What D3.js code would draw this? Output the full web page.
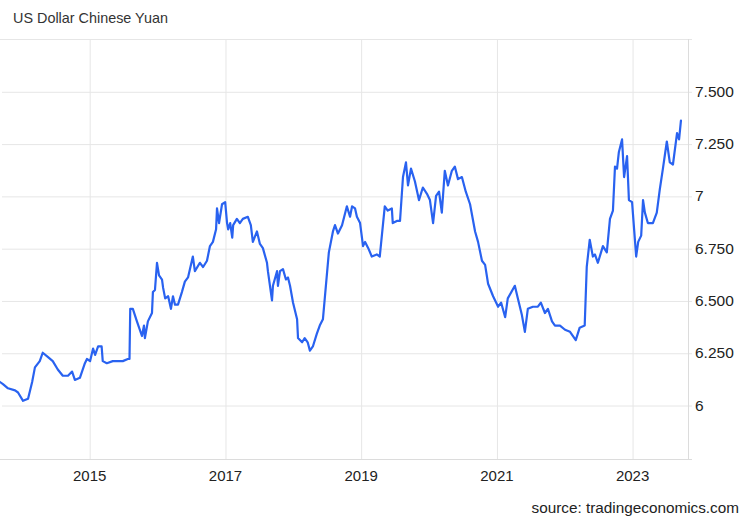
<!DOCTYPE html>
<html>
<head>
<meta charset="utf-8">
<script src="https://cdn.jsdelivr.net/npm/d3@7"></script>
<style>
  html, body { margin: 0; padding: 0; background: #fff; }
  svg { display: block; font-family: "Liberation Sans", Arial, sans-serif; }
</style>
</head>
<body>
<svg id="chart" width="750" height="520"></svg>
<script>
// ---- data ----
const title = "US Dollar Chinese Yuan";
const source = "source: tradingeconomics.com";
const dates = [
"2013-09-08","2013-09-24","2013-10-21","2013-11-28","2013-12-14","2014-01-10","2014-02-06","2014-02-28","2014-03-15","2014-04-10",
"2014-04-26","2014-05-23","2014-06-19","2014-07-16","2014-08-12","2014-09-09","2014-10-01","2014-10-16","2014-11-12","2014-12-09",
"2014-12-20","2015-01-06","2015-01-22","2015-02-02","2015-02-18","2015-03-09","2015-03-15","2015-04-06","2015-05-08","2015-06-04",
"2015-07-01","2015-07-28","2015-08-06","2015-08-10","2015-08-24","2015-09-15","2015-10-12","2015-10-23","2015-10-28","2015-11-13",
"2015-12-05","2015-12-10","2015-12-21","2016-01-01","2016-01-12","2016-01-28","2016-02-03","2016-02-14","2016-03-01","2016-03-16",
"2016-03-27","2016-04-07","2016-04-23","2016-05-14","2016-05-30","2016-06-16","2016-07-12","2016-07-23","2016-08-19","2016-09-05",
"2016-09-26","2016-10-12","2016-10-28","2016-11-14","2016-11-19","2016-11-30","2016-12-16","2017-01-02","2017-01-12","2017-01-18",
"2017-01-29","2017-02-09","2017-02-14","2017-03-06","2017-03-22","2017-04-07","2017-05-04","2017-05-20","2017-05-31","2017-06-22",
"2017-07-08","2017-07-24","2017-08-15","2017-08-20","2017-09-11","2017-09-16","2017-10-08","2017-10-13","2017-10-24","2017-11-09",
"2017-11-25","2017-12-06","2017-12-17","2018-01-02","2018-01-24","2018-01-29","2018-02-20","2018-03-06","2018-03-22","2018-04-03",
"2018-04-19","2018-05-10","2018-05-26","2018-06-12","2018-07-03","2018-07-14","2018-08-05","2018-08-16","2018-09-01","2018-09-23",
"2018-10-19","2018-11-05","2018-11-16","2018-12-02","2018-12-12","2018-12-29","2019-01-14","2019-01-25","2019-02-11","2019-03-02",
"2019-03-29","2019-04-14","2019-05-11","2019-05-27","2019-06-18","2019-06-23","2019-07-15","2019-08-01","2019-08-17","2019-09-02",
"2019-09-13","2019-09-29","2019-10-20","2019-11-11","2019-12-02","2019-12-24","2020-01-09","2020-01-26","2020-02-11","2020-02-27",
"2020-03-13","2020-03-29","2020-04-15","2020-05-06","2020-05-22","2020-06-08","2020-06-29","2020-07-20","2020-08-12","2020-09-08",
"2020-09-24","2020-10-15","2020-11-01","2020-11-17","2020-12-14","2021-01-10","2021-01-26","2021-02-17","2021-03-03","2021-04-10",
"2021-04-26","2021-05-18","2021-06-03","2021-06-19","2021-07-16","2021-08-12","2021-08-28","2021-09-19","2021-10-05","2021-10-27",
"2021-11-12","2021-12-09","2022-01-05","2022-02-01","2022-03-04","2022-03-25","2022-04-21","2022-05-02","2022-05-18","2022-06-04",
"2022-06-15","2022-07-01","2022-07-28","2022-08-18","2022-09-04","2022-09-20","2022-10-01","2022-10-12","2022-10-22","2022-11-08",
"2022-11-19","2022-12-05","2022-12-15","2023-01-01","2023-01-12","2023-01-23","2023-02-03","2023-02-19","2023-03-01","2023-03-11",
"2023-03-27","2023-04-23","2023-05-14","2023-05-30","2023-06-16","2023-07-07","2023-07-23","2023-08-09","2023-08-31","2023-09-11",
"2023-09-21"
];
const values = [
6.11,6.10,6.08,6.07,6.06,6.02,6.03,6.11,6.18,6.21,
6.25,6.23,6.21,6.17,6.14,6.14,6.16,6.12,6.13,6.20,
6.22,6.21,6.27,6.24,6.28,6.28,6.21,6.20,6.21,6.21,
6.21,6.22,6.22,6.46,6.46,6.40,6.33,6.38,6.32,6.40,
6.44,6.54,6.55,6.68,6.62,6.60,6.56,6.51,6.52,6.46,
6.52,6.48,6.48,6.54,6.59,6.61,6.71,6.64,6.68,6.66,
6.69,6.76,6.78,6.84,6.94,6.87,6.96,6.97,6.87,6.84,
6.87,6.80,6.86,6.89,6.87,6.89,6.90,6.86,6.78,6.83,
6.77,6.75,6.68,6.64,6.50,6.57,6.64,6.57,6.64,6.65,
6.60,6.61,6.57,6.49,6.41,6.32,6.30,6.32,6.30,6.26,
6.28,6.34,6.38,6.41,6.62,6.73,6.83,6.86,6.82,6.86,
6.95,6.90,6.95,6.94,6.90,6.87,6.76,6.78,6.75,6.71,
6.72,6.71,6.95,6.93,6.94,6.87,6.88,6.88,7.09,7.16,
7.05,7.13,7.07,6.98,7.04,7.01,6.98,6.87,7.00,7.02,
6.92,7.12,7.05,7.12,7.14,7.08,7.09,7.02,6.96,6.83,
6.78,6.69,6.67,6.58,6.52,6.47,6.49,6.42,6.51,6.57,
6.51,6.43,6.35,6.46,6.47,6.47,6.49,6.44,6.46,6.40,
6.38,6.38,6.36,6.35,6.31,6.37,6.38,6.66,6.79,6.71,
6.72,6.68,6.76,6.73,6.89,6.93,7.14,7.13,7.21,7.27,
7.09,7.19,6.98,6.97,6.84,6.71,6.78,6.81,6.98,6.92,
6.87,6.87,6.92,7.03,7.13,7.26,7.16,7.15,7.30,7.27,
7.36
];
const yTicks = [6, 6.25, 6.5, 6.75, 7, 7.25, 7.5];
const yTickLabels = ["6", "6.250", "6.500", "6.750", "7", "7.250", "7.500"];
const xTickYears = [2015, 2017, 2019, 2021, 2023];
const xDomain = ["2013-09-08", "2023-10-29"];
const yDomain = [5.742, 7.75];

// ---- layout ----
const svg = d3.select("#chart");
const plotL = 0, plotR = 688, plotT = 39, plotB = 459;
const parse = d3.timeParse("%Y-%m-%d");
const data = dates.map((d, i) => ({ date: parse(d), value: values[i] }));

const x = d3.scaleTime().domain(xDomain.map(parse)).range([plotL, plotR]);
const y = d3.scaleLinear().domain(yDomain).range([plotB, plotT]);

const grid = "#e6e6e6";

// title
svg.append("text").attr("x", 13).attr("y", 23)
  .attr("font-size", 14.4).attr("fill", "#333").text(title);

// top border line
svg.append("line").attr("x1", 0).attr("x2", plotR + 4)
  .attr("y1", plotT + 0.5).attr("y2", plotT + 0.5)
  .attr("stroke", grid).attr("stroke-width", 1);

// horizontal gridlines + right axis labels
const yAxis = d3.axisRight(y).tickValues(yTicks)
  .tickSize(-(plotR - plotL)).tickPadding(8)
  .tickFormat((d, i) => yTickLabels[i]);
const gy = svg.append("g").attr("transform", `translate(${plotR + 2},0)`).call(yAxis);
gy.select(".domain").remove();
gy.selectAll(".tick line").attr("stroke", grid).attr("x1", 2)
  .attr("transform", "translate(0,0.5)");
gy.selectAll(".tick text").attr("font-size", 15.5).attr("fill", "#222")
  .attr("font-family", "Liberation Sans, Arial, sans-serif").attr("x", 5);

// vertical gridlines + bottom axis labels
const xTicks = xTickYears.map(yr => new Date(yr, 0, 1));
const xAxis = d3.axisBottom(x).tickValues(xTicks)
  .tickSize(-(plotB - plotT)).tickPadding(11)
  .tickFormat(d3.timeFormat("%Y"));
const gx = svg.append("g").attr("transform", `translate(0,${plotB})`).call(xAxis);
gx.select(".domain").remove();
gx.selectAll(".tick line").attr("stroke", grid).attr("transform", "translate(0.5,0)");
gx.selectAll(".tick text").attr("font-size", 15).attr("fill", "#222")
  .attr("font-family", "Liberation Sans, Arial, sans-serif");

// right border and bottom line
svg.append("line").attr("x1", plotR + 0.5).attr("x2", plotR + 0.5)
  .attr("y1", plotT).attr("y2", plotB).attr("stroke", "#dcdcdc");
svg.append("line").attr("x1", 0).attr("x2", plotR + 4)
  .attr("y1", plotB + 0.5).attr("y2", plotB + 0.5).attr("stroke", "#dcdcdc");

// series line
const line = d3.line().x(d => x(d.date)).y(d => y(d.value)).curve(d3.curveLinear);
svg.append("path").datum(data)
  .attr("d", line).attr("fill", "none")
  .attr("stroke", "#2962f0").attr("stroke-width", 2.2)
  .attr("stroke-linejoin", "round").attr("stroke-linecap", "round");

// source
svg.append("text").attr("x", 739).attr("y", 513).attr("text-anchor", "end")
  .attr("font-size", 15.3).attr("fill", "#222").text(source);
</script>
</body>
</html>
